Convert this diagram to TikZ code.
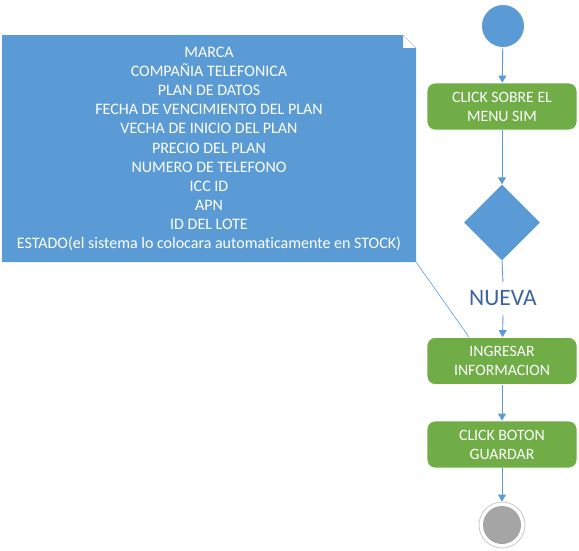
\documentclass[tikz,border=0pt]{standalone}
\usepackage{fontspec}
\setmainfont{Carlito}[Ligatures=NoCommon]
\usetikzlibrary{shapes.geometric,arrows.meta}
\definecolor{ublue}{RGB}{91,155,213}
\definecolor{ugreen}{RGB}{112,173,71}
\definecolor{ugray}{RGB}{165,165,165}
\definecolor{labblue}{RGB}{59,100,160}
\tikzset{
  x=1pt,y=-1pt,
  actbox/.style={draw=white,line width=0.8pt,fill=ugreen,rounded corners=8pt,minimum width=150pt,minimum height=47pt,align=center,text=white,font=\fontsize{15.8}{19}\selectfont,inner sep=0pt},
  flow/.style={draw=ublue,line width=0.9pt,-{Triangle[length=7pt,width=8pt]}},
  plain/.style={draw=ublue,line width=0.9pt}
}
\begin{document}
\begin{tikzpicture}
\useasboundingbox (0,0) rectangle (579,550);
% note
\fill[ublue] (2,35) -- (403,35) -- (403,48) -- (416,48) -- (416,262) -- (2,262) -- cycle;
\draw[ublue!60,line width=0.6pt] (403,35) -- (416,48);
\node[text=white,align=center,font=\fontsize{16}{19.1}\selectfont] (notetext) at (209,149) {MARCA\\COMPAÑIA TELEFONICA\\PLAN DE DATOS\\FECHA DE VENCIMIENTO DEL PLAN\\VECHA DE INICIO DEL PLAN\\PRECIO DEL PLAN\\NUMERO DE TELEFONO\\ICC ID\\APN\\ID DEL LOTE\\ESTADO(el sistema lo colocara automaticamente en STOCK)};
\coordinate (notecorner) at (416,262);
% flow
\node[circle,fill=ublue,draw=white,line width=0.8pt,minimum size=43pt,inner sep=0pt] (start) at (503,26) {};
\node[actbox] (b1) at (502,106.5) {CLICK SOBRE EL\\MENU SIM};
\node[diamond,fill=ublue,minimum width=76pt,minimum height=76pt,inner sep=0pt] (dia) at (502,222.5) {};
\node[text=labblue,font=\fontsize{23.5}{27}\selectfont,inner xsep=2pt,inner ysep=8.5pt] (nueva) at (503,298.5) {NUEVA};
\node[actbox] (b2) at (502,361) {INGRESAR\\INFORMACION};
\node[actbox] (b3) at (502,444.5) {CLICK BOTON\\GUARDAR};
\node[circle,draw=ugray!60,fill=white,line width=0.8pt,minimum size=46pt,inner sep=0pt] (end) at (502,525) {};
\node[circle,fill=ugray,minimum size=38pt,inner sep=0pt] (endin) at (end.center) {};
\coordinate (b2corner) at (469,337);
\draw[flow] (start) -- (b1);
\draw[flow] (b1) -- (dia);
\draw[plain] (dia.south) -- (nueva.north);
\draw[flow] (nueva.south) -- (b2);
\draw[flow] (b2) -- (b3);
\draw[flow] (b3) -- (end);
\draw[ublue,line width=0.6pt] (notecorner) -- (b2corner);
\end{tikzpicture}
\end{document}
